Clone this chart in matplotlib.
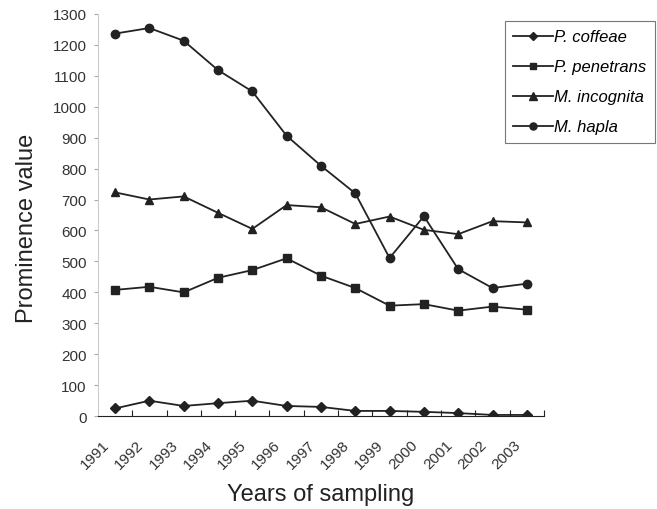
import numpy as np
import matplotlib.pyplot as plt
from matplotlib.transforms import ScaledTranslation

plt.rcParams['font.family'] = ['Liberation Sans', 'DejaVu Sans']

# Data
years = ['1991', '1992', '1993', '1994', '1995', '1996', '1997',
         '1998', '1999', '2000', '2001', '2002', '2003']
p_coffeae = [25, 50, 33, 42, 50, 33, 30, 17, 17, 14, 10, 4, 4]
p_penetrans = [408, 418, 400, 447, 472, 510, 454, 414, 357, 362, 341, 354, 344]
m_incognita = [723, 700, 710, 657, 605, 682, 675, 621, 645, 602, 588, 630, 626]
m_hapla = [1236, 1254, 1213, 1118, 1049, 906, 809, 720, 511, 646, 475, 414, 428]

series = [
    ('P. coffeae', p_coffeae, 'D', 5),
    ('P. penetrans', p_penetrans, 's', 5.5),
    ('M. incognita', m_incognita, '^', 6),
    ('M. hapla', m_hapla, 'o', 6),
]

fig = plt.figure(figsize=(6.57, 5.1), dpi=100)
ax = fig.add_axes([0.149, 0.182, 0.679, 0.789])

x = np.arange(len(years))
for name, vals, mk, ms in series:
    ax.plot(x, vals, color='#222222', marker=mk, markersize=ms, lw=1.3,
            label=name)

ax.set_xlim(-0.5, len(years) - 0.5)
ax.set_ylim(0, 1300)
ax.set_yticks(np.arange(0, 1301, 100))
ax.tick_params(axis='y', labelsize=11, colors='#333333', length=3,
               color='#aaaaaa', pad=5)

# category boundaries get the tick marks, labels sit at the centres
ax.set_xticks(np.arange(0.5, len(years), 1.0))
ax.set_xticklabels([])
ax.tick_params(axis='x', which='major', direction='in', length=4,
               color='#222222')
ax.set_xticks(x, minor=True)
ax.set_xticklabels(years, minor=True, rotation=45, ha='right',
                   rotation_mode='anchor', fontsize=11, color='#333333')
ax.tick_params(axis='x', which='minor', length=0, pad=15)
shift = ScaledTranslation(-13 / 100, 0, fig.dpi_scale_trans)
for lbl in ax.get_xticklabels(minor=True):
    lbl.set_transform(lbl.get_transform() + shift)

ax.spines['top'].set_visible(False)
ax.spines['right'].set_visible(False)
ax.spines['left'].set_color('#cccccc')
ax.spines['bottom'].set_color('#222222')

ax.set_ylabel('Prominence value', fontsize=17, color='#222222')
ax.yaxis.set_label_coords(-0.135, 0.47)
ax.set_xlabel('Years of sampling', fontsize=17, color='#222222', labelpad=9)

leg = ax.legend(loc='upper left', bbox_to_anchor=(505 / 657, 1 - 22 / 510),
                bbox_transform=fig.transFigure, frameon=True, fancybox=False,
                prop={'style': 'italic', 'size': 12}, handlelength=2.35,
                handletextpad=0.1, labelspacing=0.9, borderpad=0.5,
                borderaxespad=0, markerscale=0.85)
leg.get_frame().set_edgecolor('#555555')
leg.get_frame().set_linewidth(0.8)

fig.savefig('out.png', dpi=100)
